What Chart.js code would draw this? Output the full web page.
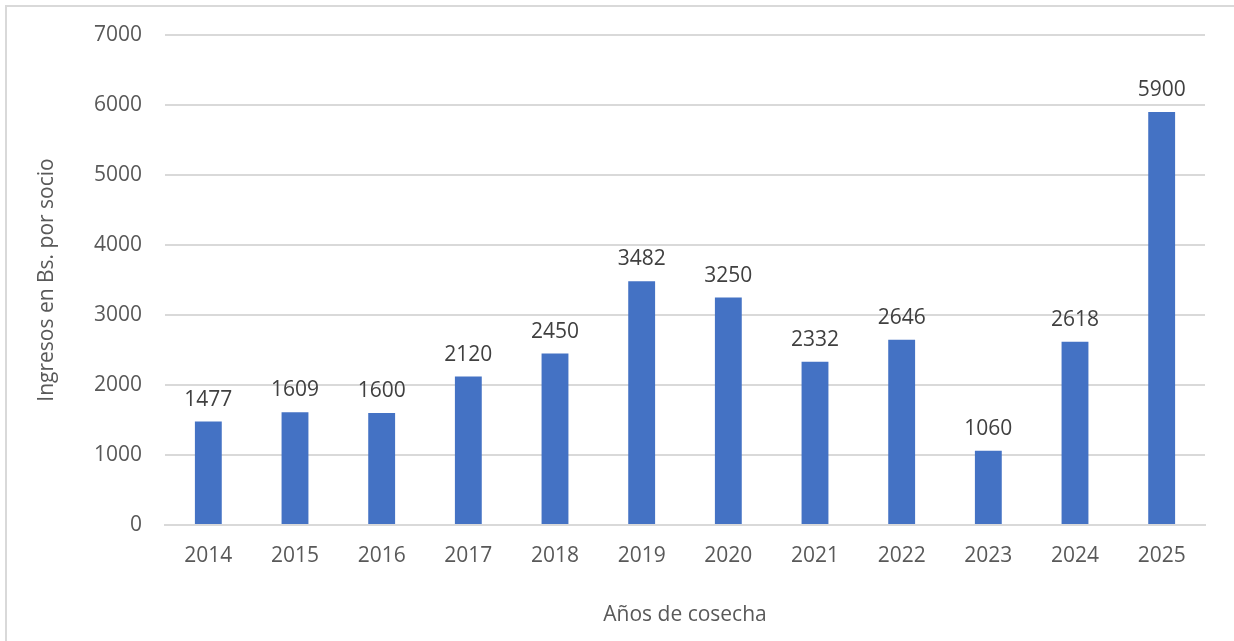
<!DOCTYPE html>
<html>
<head>
<meta charset="utf-8">
<script src="https://cdn.jsdelivr.net/npm/chart.js@4/dist/chart.umd.min.js"></script>
<style>
  html, body { margin: 0; padding: 0; background: #fff; }
  #frame {
    position: absolute;
    left: 5px;
    top: 5px;
    width: 1227px;
    height: 634px;
    border-top: 2px solid #d9d9d9;
    border-left: 2px solid #d9d9d9;
  }
  #chart { display: block; }
</style>
</head>
<body>
<div id="frame"><canvas id="chart" width="1227" height="634"></canvas></div>
<script>
// Ingresos por socio, por año de cosecha
const years = ["2014", "2015", "2016", "2017", "2018", "2019", "2020", "2021", "2022", "2023", "2024", "2025"];
const ingresos = [1477, 1609, 1600, 2120, 2450, 3482, 3250, 2332, 2646, 1060, 2618, 5900];
const yTicks = [0, 1000, 2000, 3000, 4000, 5000, 6000, 7000];

const FONT = "'Open Sans', sans-serif";

// draws the value above each bar
const barLabels = {
        id: "barLabels",
        afterDatasetsDraw(chart) {
                const ctx = chart.ctx;
                const meta = chart.getDatasetMeta(0);
                ctx.save();
                ctx.font = "21px " + FONT;
                ctx.fillStyle = "#404040";
                ctx.textAlign = "center";
                ctx.textBaseline = "alphabetic";
                meta.data.forEach((bar, i) => {
                        ctx.fillText(String(chart.data.datasets[0].data[i]), bar.x, bar.y - 16);
                });
                ctx.restore();
        }
};

const ctx = document.getElementById("chart").getContext("2d");

new Chart(ctx, {
        type: "bar",
        data: {
                labels: years,
                datasets: [{
                        data: ingresos,
                        backgroundColor: "#4472c4",
                        borderWidth: 0,
                        categoryPercentage: 1,
                        barPercentage: 0.31
                }]
        },
        options: {
                responsive: false,
                animation: false,
                layout: { padding: { top: 28, right: 29, left: 0, bottom: 0 } },
                plugins: {
                        legend: { display: false },
                        tooltip: { enabled: false }
                },
                scales: {
                        x: {
                                grid: { display: false, drawTicks: false },
                                border: { color: "#d9d9d9", width: 2 },
                                ticks: {
                                        color: "#595959",
                                        font: { family: FONT, size: 21 },
                                        padding: 18,
                                        maxRotation: 0
                                },
                                title: {
                                        display: true,
                                        text: "Años de cosecha",
                                        color: "#595959",
                                        font: { family: FONT, size: 21 },
                                        padding: { top: 0, bottom: 13 }
                                },
                                afterFit(scale) { scale.height = 116; }
                        },
                        y: {
                                min: 0,
                                max: 7000,
                                afterBuildTicks(scale) {
                                        scale.ticks = yTicks.map(v => ({ value: v }));
                                },
                                grid: { color: "#d9d9d9", lineWidth: 2, drawTicks: false },
                                border: { display: false },
                                ticks: {
                                        color: "#595959",
                                        font: { family: FONT, size: 21 },
                                        padding: 23,
                                        callback: v => String(v)
                                },
                                title: {
                                        display: true,
                                        text: "Ingresos en Bs. por socio",
                                        color: "#595959",
                                        font: { family: FONT, size: 21 },
                                        padding: { top: 27, bottom: 0 }
                                },
                                afterFit(scale) {
                                        scale.width = 158;
                                        scale.paddingTop = 0;
                                        scale.paddingBottom = 0;
                                }
                        }
                }
        },
        plugins: [barLabels]
});
</script>
</body>
</html>
